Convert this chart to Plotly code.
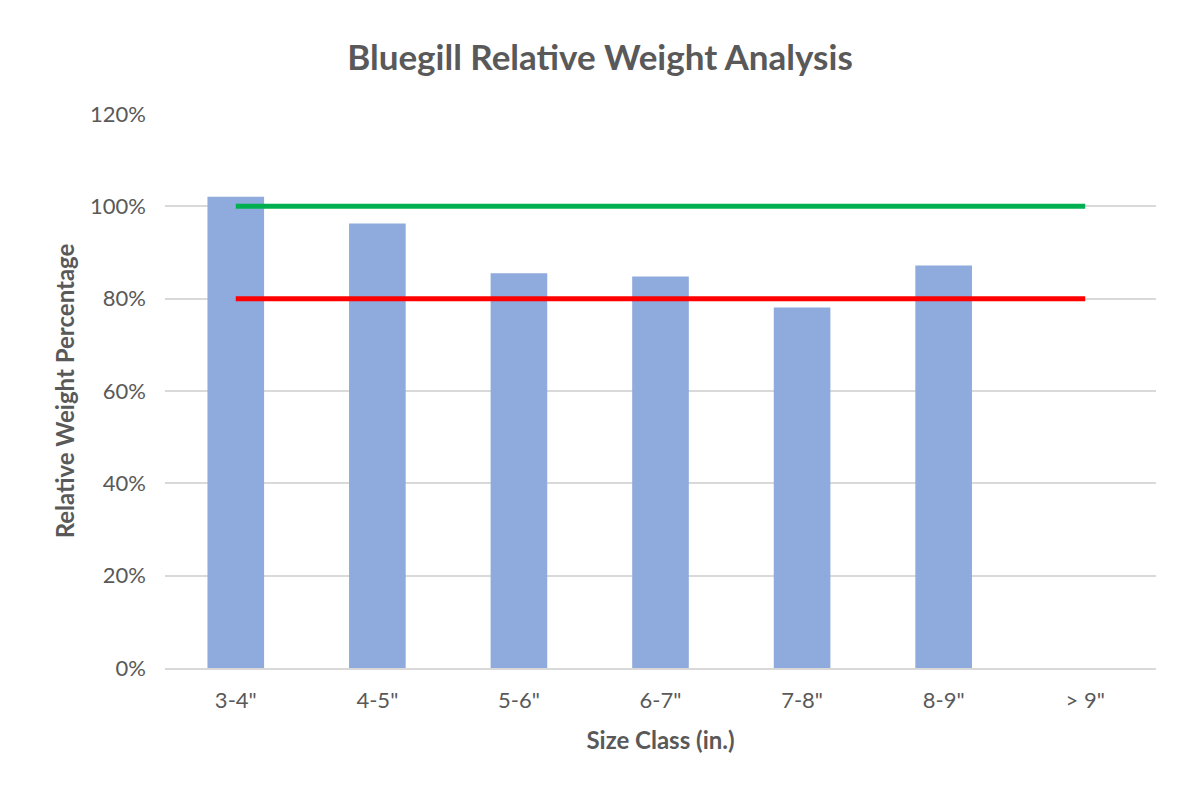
import plotly.graph_objects as go

categories = ['3-4"', '4-5"', '5-6"', '6-7"', '7-8"', '8-9"', '> 9"']
rel_weight = [1.021, 0.963, 0.855, 0.848, 0.781, 0.872, None]
upper_target = [1.0] * len(categories)
lower_target = [0.8] * len(categories)

fig = go.Figure()
fig.add_trace(go.Bar(x=categories, y=rel_weight, marker=dict(color="#8FAADC", line=dict(width=0)),
                     width=0.4, showlegend=False))
fig.add_trace(go.Scatter(x=categories, y=upper_target, mode="lines",
                         line=dict(color="#00B050", width=5), showlegend=False))
fig.add_trace(go.Scatter(x=categories, y=lower_target, mode="lines",
                         line=dict(color="#FF0000", width=5), showlegend=False))

fnt = "Lato, Carlito, Calibri, sans-serif"
fig.update_layout(
    width=1200, height=800,
    paper_bgcolor="white", plot_bgcolor="white",
    margin=dict(l=165, r=44, t=114, b=132),
    title=dict(text="<b>Bluegill Relative Weight Analysis</b>", x=0.5, xanchor="center",
               y=1 - 58 / 800, yanchor="middle",
               font=dict(family=fnt, size=35, color="#595959")),
    font=dict(family=fnt, color="#595959"),
    bargap=0.6,
)
fig.update_xaxes(showline=True, linecolor="#D9D9D9", linewidth=2, ticks="",
                 ticklabelstandoff=12,
                 tickfont=dict(size=22, color="#595959"),
                 title=dict(text="<b>Size Class (in.)</b>", font=dict(size=24, color="#595959"), standoff=20))
fig.update_yaxes(range=[0, 1.2], dtick=0.2, tickformat=".0%", showgrid=True, gridcolor="#D9D9D9",
                 gridwidth=2, zeroline=False, ticks="",
                 ticklabelstandoff=18,
                 tickfont=dict(size=22, color="#595959"),
                 title=dict(text="<b>Relative Weight Percentage</b>", font=dict(size=24, color="#595959"),
                            standoff=8))
fig.write_html("out.html")
